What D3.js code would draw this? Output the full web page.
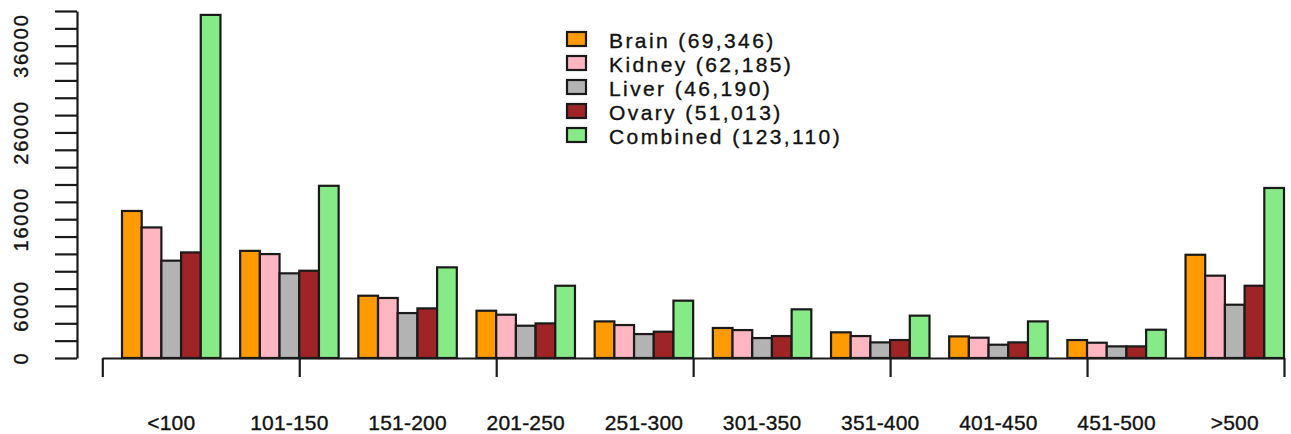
<!DOCTYPE html>
<html>
<head>
<meta charset="utf-8">
<script src="https://cdn.jsdelivr.net/npm/d3@7"></script>
<style>
html,body{margin:0;padding:0;background:#fff;}
svg{display:block;}
text{font-family:"Liberation Sans",Arial,sans-serif;fill:#111;stroke:#111;stroke-width:0.35px;}
</style>
</head>
<body>
<svg id="chart" width="1291" height="434"></svg>
<script>
const categories = ["<100","101-150","151-200","201-250","251-300","301-350","351-400","401-450","451-500",">500"];
const seriesNames = ["Brain (69,346)","Kidney (62,185)","Liver (46,190)","Ovary (51,013)","Combined (123,110)"];
const colors = ["#FF9A00","#FFB6C1","#B3B3B3","#9E2426","#86EA86"];
const brain    = [16950, 12350, 7180, 5450, 4220, 3460, 2960, 2490, 2070, 11900];
const kidney   = [15050, 11980, 6920, 4990, 3800, 3220, 2530, 2340, 1760, 9490];
const liver    = [11220, 9760, 5180, 3720, 2760, 2300, 1800, 1530, 1340, 6140];
const ovary    = [12170, 10060, 5720, 3990, 3030, 2530, 2070, 1800, 1340, 8330];
const combined = [39550, 19850, 10450, 8330, 6610, 5610, 4880, 4220, 3260, 19600];
const yTicks = d3.range(0, 40001, 2000);
const yTickLabels = [0, 6000, 16000, 26000, 36000];
const xTicks = [0, 10, 20, 30, 40, 50, 60];

const series = [brain, kidney, liver, ovary, combined];
const svg = d3.select("#chart");

const x = d3.scaleLinear().domain([0, 60]).range([102.3, 1284]);
const y = d3.scaleLinear().domain([0, 40000]).range([358, 11]);

// bars
const barData = [];
categories.forEach((c, g) => {
  series.forEach((s, j) => {
    barData.push({g, j, v: s[g]});
  });
});
svg.append("g").selectAll("rect").data(barData).join("rect")
  .attr("x", d => x(6 * d.g + 1 + d.j))
  .attr("width", d => x(6 * d.g + 2 + d.j) - x(6 * d.g + 1 + d.j))
  .attr("y", d => y(d.v))
  .attr("height", d => y(0) - y(d.v))
  .attr("fill", d => colors[d.j])
  .attr("stroke", "#1a1a1a")
  .attr("stroke-width", 2.2);

// y axis
const yAxis = d3.axisLeft(y).tickValues(yTicks).tickSize(22).tickSizeOuter(0)
  .tickFormat(() => "");
const ya = svg.append("g").attr("transform", "translate(77,0)").call(yAxis);
ya.select(".domain").attr("stroke", "#1a1a1a").attr("stroke-width", 2.2);
ya.selectAll(".tick line").attr("stroke", "#1a1a1a").attr("stroke-width", 2.2);

svg.append("g").selectAll("text").data(yTickLabels).join("text")
  .attr("transform", d => `translate(21,${y(d)}) rotate(-90)`)
  .attr("text-anchor", "middle")
  .attr("dominant-baseline", "central")
  .style("font-size", "20px")
  .style("letter-spacing", "1.8px")
  .text(d => d);

// x axis (ticks on unit scale, labels at group centers)
const xAxis = d3.axisBottom(x).tickValues(xTicks).tickSize(19).tickSizeOuter(0)
  .tickFormat(() => "");
const xa = svg.append("g").attr("transform", `translate(0,${y(0)})`).call(xAxis);
xa.select(".domain").attr("stroke", "#1a1a1a").attr("stroke-width", 2.2);
xa.selectAll(".tick line").attr("stroke", "#1a1a1a").attr("stroke-width", 2.2);

svg.append("g").selectAll("text").data(categories).join("text")
  .attr("x", (d, g) => x(6 * g + 3.5))
  .attr("y", 422)
  .attr("text-anchor", "middle")
  .attr("dominant-baseline", "central")
  .style("font-size", "21px")
  .style("letter-spacing", "0.2px")
  .text(d => d);

// legend
const lg = svg.append("g");
const rowY = i => 39 + i * 24;
lg.selectAll("rect").data(seriesNames).join("rect")
  .attr("x", 567).attr("y", (d, i) => rowY(i) - 7)
  .attr("width", 19).attr("height", 14)
  .attr("fill", (d, i) => colors[i])
  .attr("stroke", "#1a1a1a").attr("stroke-width", 2.2);
lg.selectAll("text").data(seriesNames).join("text")
  .attr("x", 609).attr("y", (d, i) => rowY(i) + 1)
  .attr("dominant-baseline", "central")
  .style("font-size", "21px")
  .style("letter-spacing", "2.4px")
  .text(d => d);
</script>
</body>
</html>
